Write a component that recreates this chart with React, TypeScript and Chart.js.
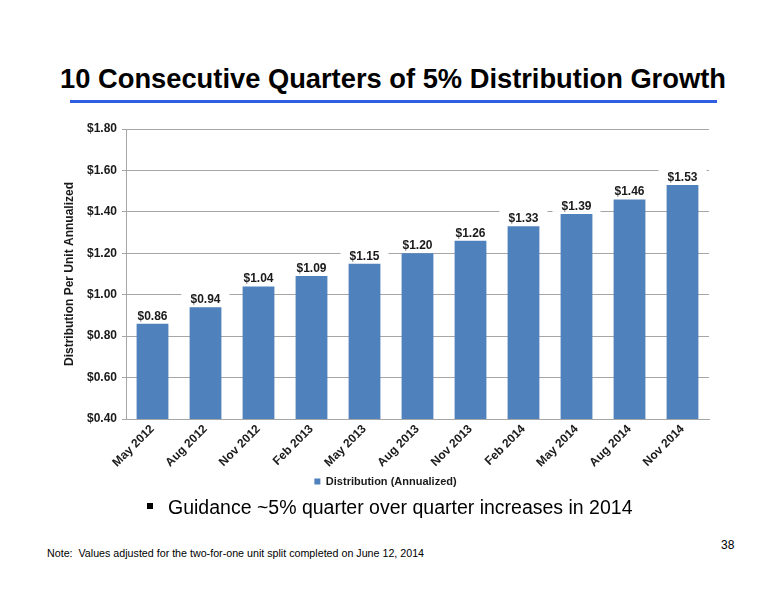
import React, { useEffect, useRef } from "react";
import { Chart, registerables } from "chart.js";

Chart.register(...registerables);

const categories = ["May 2012", "Aug 2012", "Nov 2012", "Feb 2013", "May 2013", "Aug 2013", "Nov 2013", "Feb 2014", "May 2014", "Aug 2014", "Nov 2014"];
const distribution = [0.86, 0.94, 1.04, 1.09, 1.15, 1.2, 1.26, 1.33, 1.39, 1.46, 1.53];
const valueLabels = ["$0.86", "$0.94", "$1.04", "$1.09", "$1.15", "$1.20", "$1.26", "$1.33", "$1.39", "$1.46", "$1.53"];
const seriesName = "Distribution (Annualized)";
const yAxisTitle = "Distribution Per Unit Annualized";
const yMin = 0.4;
const yMax = 1.8;
const yStep = 0.2;

const FONT = "'Liberation Sans', Arial, sans-serif";

const labelPlugin = {
  id: "valueLabels",
  afterDatasetsDraw(chart: any) {
    const ctx = chart.ctx;
    const meta = chart.getDatasetMeta(0);
    ctx.save();
    ctx.font = `bold 12px ${FONT}`;
    ctx.textAlign = "center";
    ctx.textBaseline = "alphabetic";
    meta.data.forEach((bar: any, i: number) => {
      const txt = valueLabels[i];
      const w = ctx.measureText(txt).width;
      const baseline = bar.y - 4;
      ctx.fillStyle = "#ffffff";
      ctx.fillRect(bar.x - w / 2 - 9, baseline - 15, w + 18, 17);
      ctx.fillStyle = "#1a1a1a";
      ctx.fillText(txt, bar.x, baseline);
    });
    ctx.restore();
  },
};

export default function App() {
  const ref = useRef<HTMLCanvasElement>(null);
  useEffect(() => {
    if (!ref.current) return;
    const chart = new Chart(ref.current, {
      type: "bar",
      data: {
        labels: categories,
        datasets: [
          {
            label: seriesName,
            data: distribution,
            backgroundColor: "#4f81bd",
            borderWidth: 0,
            barPercentage: 0.6,
            categoryPercentage: 1,
          },
        ],
      },
      options: {
        animation: false,
        responsive: false,
        maintainAspectRatio: false,
        layout: { padding: { top: 19, right: 10, left: 0, bottom: 0 } },
        plugins: {
          legend: {
            position: "bottom",
            labels: {
              boxWidth: 6,
              boxHeight: 6,
              color: "#1a1a1a",
              font: { family: FONT, size: 11, weight: "bold" },
              padding: 7,
            },
          },
          tooltip: { enabled: false },
        },
        scales: {
          x: {
            grid: { display: false, drawTicks: false },
            border: { color: "#a6a6a6", width: 1 },
            afterFit: (scale: any) => {
              scale.height = 50;
            },
            ticks: {
              color: "#1a1a1a",
              font: { family: FONT, size: 12, weight: "bold" },
              maxRotation: 45,
              minRotation: 45,
              padding: 3,
            },
          },
          y: {
            min: yMin,
            max: yMax,
            afterFit: (scale: any) => {
              scale.width = 64;
            },
            ticks: {
              stepSize: yStep,
              color: "#1a1a1a",
              font: { family: FONT, size: 12, weight: "bold" },
              callback: (v: any) => "$" + Number(v).toFixed(2),
              padding: 5,
            },
            grid: { color: "#a6a6a6", tickLength: 4 },
            border: { color: "#a6a6a6" },
            title: {
              display: true,
              text: yAxisTitle,
              color: "#1a1a1a",
              font: { family: FONT, size: 12, weight: "bold" },
              padding: 0,
            },
          },
        },
      },
      plugins: [labelPlugin],
    });
    return () => chart.destroy();
  }, []);

  return (
    <div style={{ position: "absolute", left: 0, top: 0, width: 776, height: 600, background: "#fff", fontFamily: FONT, overflow: "hidden" }}>
      <div style={{ position: "absolute", left: 0, width: 786, top: 61, textAlign: "center", fontSize: 27.3, fontWeight: "bold", color: "#000", lineHeight: "36px", whiteSpace: "nowrap" }}>
        10 Consecutive Quarters of 5% Distribution Growth
      </div>
      <div style={{ position: "absolute", left: 70, top: 100, width: 647, height: 3, background: "#2f5fe0" }} />
      <canvas ref={ref} width={657} height={387} style={{ position: "absolute", left: 62, top: 110, width: 657, height: 387 }} />
      <div style={{ position: "absolute", left: 147, top: 503, width: 6, height: 6, background: "#000" }} />
      <div style={{ position: "absolute", left: 168, top: 493.5, fontSize: 19.5, color: "#000", lineHeight: "26px", whiteSpace: "nowrap" }}>
        Guidance ~5% quarter over quarter increases in 2014
      </div>
      <div style={{ position: "absolute", left: 47, top: 546.5, fontSize: 10.7, lineHeight: "12px", color: "#000", whiteSpace: "nowrap" }}>
        Note:&nbsp; Values adjusted for the two-for-one unit split completed on June 12, 2014
      </div>
      <div style={{ position: "absolute", left: 721, top: 538, fontSize: 12, lineHeight: "14px", color: "#000" }}>38</div>
    </div>
  );
}
